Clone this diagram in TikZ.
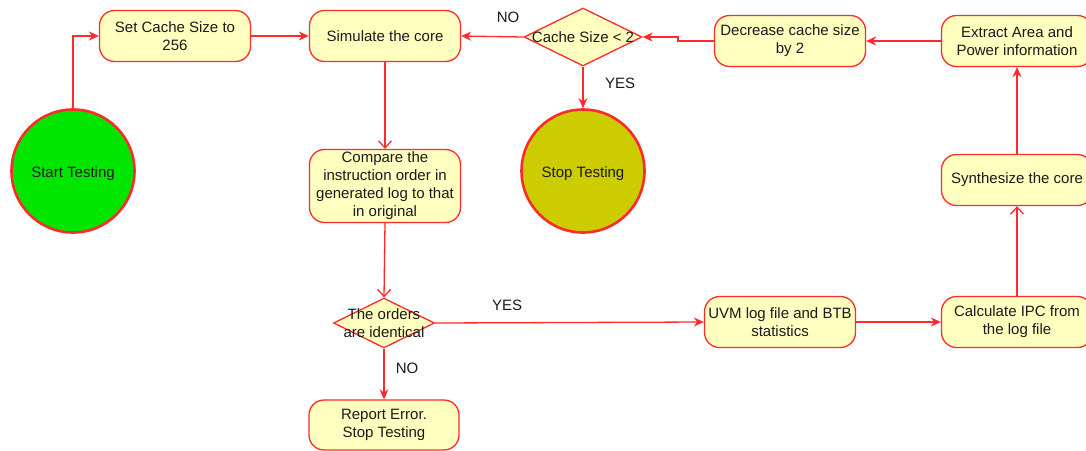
\documentclass[tikz,border=0pt]{standalone}
\usepackage{fontspec}
\setmainfont{Liberation Sans}
\usetikzlibrary{shapes.geometric,arrows.meta}
\definecolor{edge}{HTML}{FF2B2B}
\definecolor{boxfill}{HTML}{FFFFC0}
\definecolor{startfill}{HTML}{00E600}
\definecolor{stopfill}{HTML}{CCCC00}
\definecolor{txt}{HTML}{1A1A1A}
\begin{document}
\begin{tikzpicture}[x=1pt,y=-1pt,
  font=\fontsize{15}{18}\selectfont, text=txt,
  proc/.style={draw=edge, fill=boxfill, line width=1.3pt, rounded corners=15pt,
    minimum width=151pt, minimum height=51pt, align=center, inner sep=0pt},
  term/.style={circle, draw=edge, line width=2.6pt, minimum size=123pt, inner sep=0pt},
  dec/.style={diamond, draw=edge, fill=boxfill, line width=1.3pt, inner sep=0pt},
  flow/.style={draw=edge, line width=1.3pt, -{Stealth[length=10pt,width=9pt]}},
  openflow/.style={draw=edge, line width=1.3pt, -{Straight Barb[length=7pt,width=13pt]}},
  lbl/.style={inner sep=0pt}
]
\useasboundingbox (0,0) rectangle (1086,450);

% terminals
\node[term, fill=startfill] (start) at (73,171) {};
\node[lbl, yshift=-3pt] (starttxt) at (start) {Start Testing};
\node[term, fill=stopfill] (stop) at (583,171) {};
\node[lbl, yshift=-3pt] (stoptxt) at (stop) {Stop Testing};

% process boxes
\node[proc] (setc) at (175,36) {Set Cache Size to\\256};
\node[proc] (sim) at (385,36) {Simulate the core};
\node[proc] (decr) at (790,41) {Decrease cache size\\by 2};
\node[proc] (extr) at (1017,41) {Extract Area and\\Power information};
\node[proc] (synth) at (1017,180) {Synthesize the core};
\node[proc] (calc) at (1017,322) {Calculate IPC from\\the log file};
\node[proc] (uvm) at (780,322) {UVM log file and BTB\\statistics};
\node[proc, minimum height=73pt] (cmp) at (385,186) {Compare the\\instruction order in\\generated log to that\\in original};
\node[proc, minimum width=150pt, minimum height=50pt] (rep) at (384,425) {Report Error.\\Stop Testing};

% decisions
\node[dec, minimum width=118pt, minimum height=58pt] (cs) at (583,37) {};
\node[lbl] (cstxt) at (cs) {Cache Size {<} 2};
\node[dec, minimum width=101pt, minimum height=50pt] (ord) at (384,323) {};
\node[lbl, align=center] (ordtxt) at (ord) {The orders\\are identical};

% connectors
\draw[flow] (start.north) |- (setc.west);
\draw[flow] (setc.east) -- (sim.west);
\draw[flow] (cs.west) -- (sim.east);
\draw[flow] (decr.west) -- ++(-36,0) |- (cs.east);
\draw[flow] (extr.west) -- (decr.east);
\draw[flow] (synth.north) -- (extr.south);
\draw[openflow] (calc.north) -- (synth.south);
\draw[flow] (uvm.east) -- (calc.west);
\draw[flow] (ord.east) -- (uvm.west);
\draw[flow] (ord.south) -- (rep.north);
\draw[openflow] (sim.south) -- (cmp.north);
\draw[openflow] (cmp.south) -- (ord.north);
\draw[flow] (cs.south) -- (stop.north);

% branch labels
\node[lbl] (no1) at (508,17) {NO};
\node[lbl] (yes1) at (620,83) {YES};
\node[lbl] (yes2) at (507,305) {YES};
\node[lbl] (no2) at (407,368) {NO};
\end{tikzpicture}
\end{document}
